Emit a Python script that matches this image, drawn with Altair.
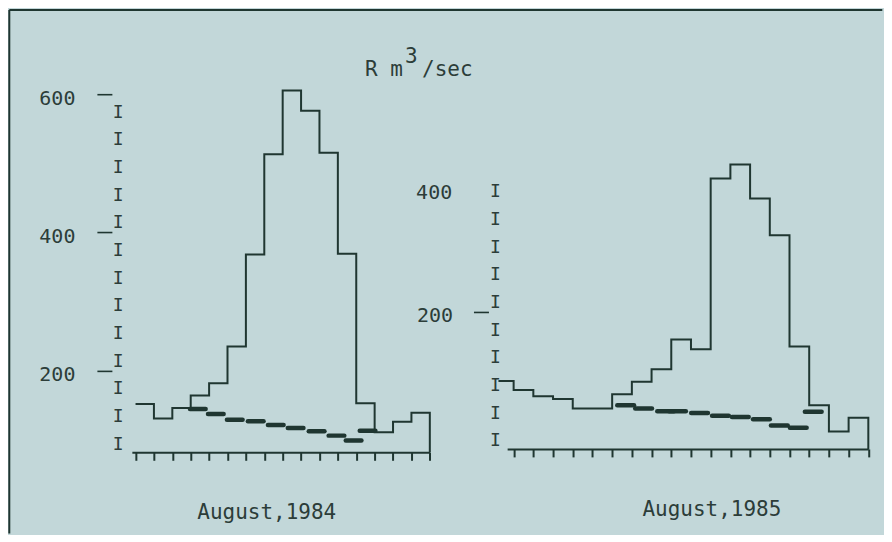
import altair as alt
import pandas as pd

# ---------------- data ----------------
# August 1984: daily runoff R (m3/sec), one value per day interval (tick 0..16)
left_flow = [152, 131, 146, 164, 182, 235, 368, 513, 605, 576, 515, 369, 153, 111, 126, 139]
# baseline (dashed) segments: start day and value
left_base_start = [2.96, 3.94, 4.97, 6.11, 7.2, 8.28, 9.42, 10.5, 11.43, 12.19]
left_base = [144.7, 137.5, 129.2, 126.8, 121.6, 117.2, 112.3, 106.1, 98.9, 113.3]

# August 1985: first value is a partial day before the first tick
right_first_day = -0.77
right_flow = [100, 87, 78, 74, 60.5, 60.5, 81, 99, 117, 160, 146, 393, 413, 364, 311, 150, 65, 27, 47]
right_base_start = [5.26, 6.17, 7.29, 7.89, 9.01, 10.07, 11.08, 12.15, 13.06, 14.02, 14.78]
right_base = [65, 60.5, 56.6, 56.6, 54, 50, 48, 45, 36, 32.5, 55.6]

left_tick_labels = [200, 400, 600]
left_I_ticks = [80, 120, 160, 200, 240, 280, 320, 360, 400, 440, 480, 520, 560]
right_tick_labels = [200]
right_I_ticks = [0, 40, 80, 120, 160, 200, 240, 280, 320, 360]

left_days = list(range(0, 17))
right_days = list(range(0, 19))

LEFT_Y = [82, 620]
RIGHT_Y = [2, 535]
LEFT_X = [-0.2, 16]
RIGHT_X = [-0.33, 18]

# ---------------- style ----------------
INK = "#1f3631"
TXT = "#2c3d39"
BG = "#c2d7d9"
FONT = "DejaVu Sans Mono"
DASH_LEN = 0.85


def step_frame(xs, vals, end_x, ymin):
    x = list(xs) + [end_x, end_x]
    y = list(vals) + [vals[-1], ymin]
    return pd.DataFrame({"day": x, "R": y, "o": range(len(x))})


def base_frame(starts, vals):
    return pd.DataFrame({"day": starts, "e": [s + DASH_LEN for s in starts], "R": vals})


def panel(step_df, base_df, xdom, ydom, days, tick_vals, I_vals, I_x, y_offset, label_pad):
    xs = alt.Scale(domain=xdom, nice=False, zero=False)
    ys = alt.Scale(domain=ydom, nice=False, zero=False)
    xaxis = alt.Axis(values=days, labels=False, ticks=True, tickSize=8, tickWidth=2,
                     tickColor=INK, domain=True, domainWidth=2, domainColor=INK,
                     grid=False, title=None)
    yaxis = alt.Axis(values=tick_vals, domain=False, grid=False, ticks=True, tickSize=15,
                     tickWidth=1.6, tickColor=INK, labelFont=FONT, labelFontSize=20,
                     labelColor=TXT, labelPadding=label_pad, offset=y_offset,
                     labelOffset=4, title=None)
    step = alt.Chart(step_df).mark_line(interpolate="step-after", color=INK, strokeWidth=2).encode(
        x=alt.X("day:Q", scale=xs, axis=xaxis),
        y=alt.Y("R:Q", scale=ys, axis=yaxis),
        order="o:Q",
    )
    dashes = alt.Chart(base_df).mark_rule(color=INK, strokeWidth=4.5, strokeCap="round").encode(
        x=alt.X("day:Q", scale=xs, axis=xaxis),
        x2="e:Q",
        y=alt.Y("R:Q", scale=ys, axis=yaxis),
    )
    ibars = alt.Chart(pd.DataFrame({"R": I_vals})).mark_text(
        text="I", font=FONT, fontSize=18, color=TXT, align="center", baseline="middle", dy=-9
    ).encode(
        x=alt.value(I_x),
        y=alt.Y("R:Q", scale=ys, axis=yaxis),
    )
    return [step, dashes, ibars]


one = pd.DataFrame({"k": [0]})


def note(text, x, y, size=21, align="center", baseline="alphabetic"):
    return alt.Chart(one).mark_text(text=text, font=FONT, fontSize=size, color=TXT,
                                    align=align, baseline=baseline).encode(
        x=alt.value(x), y=alt.value(y))


# frame lines (top and left)
frame_left = alt.Chart(one).mark_rule(color=INK, strokeWidth=2).encode(
    x=alt.value(-122.7), y=alt.value(-70.2), y2=alt.value(453.8))
frame_top = alt.Chart(one).mark_rule(color=INK, strokeWidth=2).encode(
    x=alt.value(-122.7), x2=alt.value(751.3), y=alt.value(-70.2))

left_layers = panel(
    step_frame(left_days[:-1], left_flow, left_days[-1], LEFT_Y[0]),
    base_frame(left_base_start, left_base),
    LEFT_X, LEFT_Y, left_days, left_tick_labels, left_I_ticks, -13.7, 20, 22,
)
left = alt.layer(
    frame_left, frame_top, *left_layers,
    note("R m", 271.3, -4.2, align="right"),
    note("3", 273.5, -17.2, align="left"),
    note("/sec", 290.5, -4.2, align="left"),
    note("August,1984", 135, 438.8),
).properties(width=298.3, height=372.5)

right_layers = panel(
    step_frame([right_first_day] + right_days[:-1], right_flow, right_days[-1], RIGHT_Y[0]),
    base_frame(right_base_start, right_base),
    RIGHT_X, RIGHT_Y, right_days, right_tick_labels, right_I_ticks, -11.7, 18.7, 21,
)
right = alt.layer(
    *right_layers,
    note("400", -55, 112.5, size=20, align="right", baseline="middle"),
    note("August,1985", 205, 435.8),
).properties(width=361.6, height=369.1)

chart = alt.hconcat(left, right, spacing=76.7, bounds="flush").properties(
    padding=0, background=BG
).configure_view(stroke=None)

chart.save("out.html", embed_options={"renderer": "svg", "actions": False})
